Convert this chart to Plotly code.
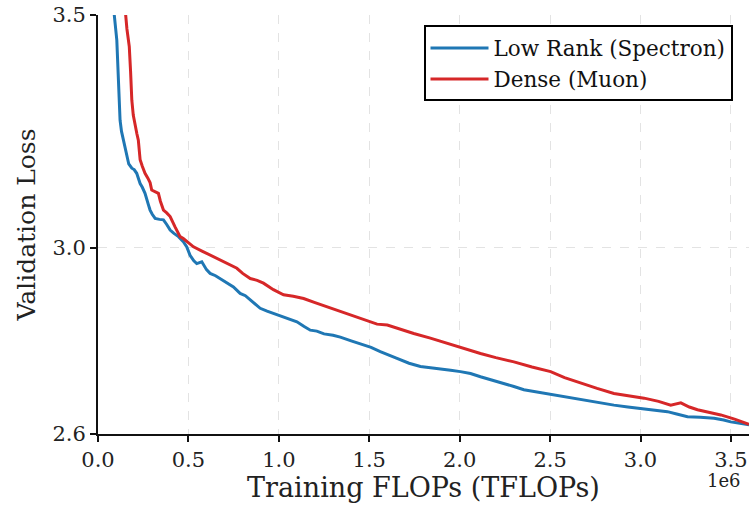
import plotly.graph_objects as go

# Low Rank (Spectron): x in units of 1e6 TFLOPs
lr_x = [0.085, 0.090, 0.104, 0.112, 0.118, 0.122, 0.130, 0.140, 0.150, 0.159, 0.170, 0.187, 0.200,
        0.214, 0.233, 0.245, 0.260, 0.279, 0.288, 0.300, 0.316, 0.340, 0.362, 0.380, 0.399, 0.420,
        0.445, 0.472, 0.491, 0.509, 0.530, 0.546, 0.574, 0.600, 0.620, 0.650, 0.676, 0.710, 0.749,
        0.786, 0.815, 0.842, 0.870, 0.897, 0.935, 0.971, 1.020, 1.063, 1.100, 1.140, 1.174, 1.210,
        1.250, 1.300, 1.340, 1.400, 1.450, 1.510, 1.561, 1.610, 1.650, 1.720, 1.783, 1.850, 1.900,
        1.950, 2.004, 2.060, 2.115, 2.180, 2.244, 2.300, 2.355, 2.430, 2.503, 2.580, 2.669, 2.760,
        2.853, 2.930, 3.001, 3.080, 3.149, 3.200, 3.260, 3.330, 3.407, 3.460, 3.499, 3.550, 3.600]
lr_y = [3.600, 3.500, 3.446, 3.380, 3.330, 3.274, 3.250, 3.231, 3.210, 3.196, 3.180, 3.171, 3.168,
        3.160, 3.138, 3.130, 3.117, 3.092, 3.081, 3.072, 3.063, 3.061, 3.060, 3.050, 3.038, 3.031,
        3.024, 3.013, 3.002, 2.984, 2.972, 2.966, 2.970, 2.953, 2.945, 2.940, 2.934, 2.926, 2.916,
        2.902, 2.897, 2.888, 2.878, 2.870, 2.864, 2.859, 2.852, 2.845, 2.841, 2.831, 2.823, 2.821,
        2.815, 2.812, 2.808, 2.800, 2.793, 2.786, 2.777, 2.770, 2.763, 2.752, 2.745, 2.742, 2.740,
        2.737, 2.734, 2.730, 2.723, 2.716, 2.709, 2.702, 2.695, 2.690, 2.684, 2.679, 2.673, 2.668,
        2.662, 2.658, 2.655, 2.652, 2.648, 2.643, 2.637, 2.636, 2.634, 2.630, 2.626, 2.623, 2.620]

# Dense (Muon)
dn_x = [0.150, 0.153, 0.160, 0.173, 0.180, 0.187, 0.195, 0.205, 0.215, 0.223, 0.233, 0.245, 0.260,
        0.275, 0.288, 0.297, 0.315, 0.334, 0.345, 0.353, 0.362, 0.380, 0.399, 0.426, 0.454, 0.472,
        0.500, 0.528, 0.575, 0.620, 0.660, 0.694, 0.730, 0.768, 0.800, 0.842, 0.880, 0.915, 0.970,
        1.026, 1.080, 1.137, 1.200, 1.266, 1.330, 1.395, 1.470, 1.543, 1.600, 1.654, 1.700, 1.746,
        1.838, 1.910, 1.986, 2.050, 2.115, 2.200, 2.300, 2.400, 2.503, 2.580, 2.669, 2.760, 2.853,
        2.940, 3.020, 3.100, 3.167, 3.223, 3.270, 3.315, 3.380, 3.444, 3.520, 3.600]
dn_y = [3.600, 3.500, 3.470, 3.432, 3.380, 3.317, 3.285, 3.260, 3.245, 3.231, 3.189, 3.175, 3.160,
        3.150, 3.140, 3.124, 3.120, 3.117, 3.100, 3.090, 3.081, 3.075, 3.067, 3.045, 3.024, 3.020,
        3.010, 3.002, 2.993, 2.984, 2.976, 2.970, 2.963, 2.956, 2.945, 2.934, 2.930, 2.924, 2.910,
        2.899, 2.896, 2.891, 2.882, 2.873, 2.864, 2.856, 2.846, 2.836, 2.834, 2.827, 2.821, 2.816,
        2.806, 2.797, 2.788, 2.781, 2.773, 2.764, 2.755, 2.744, 2.734, 2.721, 2.709, 2.698, 2.687,
        2.682, 2.677, 2.670, 2.662, 2.667, 2.658, 2.652, 2.647, 2.641, 2.632, 2.621]

x_ticks = [0.0, 0.5, 1.0, 1.5, 2.0, 2.5, 3.0, 3.5]
x_ticktext = ["0.0", "0.5", "1.0", "1.5", "2.0", "2.5", "3.0", "3.5"]
y_ticks = [2.6, 3.0, 3.5]
y_ticktext = ["2.6", "3.0", "3.5"]

SCALE = 1e6
FONT = "DejaVu Serif"

fig = go.Figure()
fig.add_trace(go.Scatter(x=[v * SCALE for v in lr_x], y=lr_y, mode="lines",
                         name="Low Rank (Spectron)", line=dict(color="#1f77b4", width=3)))
fig.add_trace(go.Scatter(x=[v * SCALE for v in dn_x], y=dn_y, mode="lines",
                         name="Dense (Muon)", line=dict(color="#d62728", width=3)))

fig.update_layout(
    width=754, height=506,
    margin=dict(l=98, r=5, t=15, b=72),
    paper_bgcolor="white", plot_bgcolor="white",
    font=dict(family=FONT, color="#222222", size=21),
    showlegend=True,
    legend=dict(x=0.5, y=0.975, xanchor="left", yanchor="top",
                bordercolor="black", borderwidth=2, bgcolor="white",
                font=dict(family=FONT, size=21.5, color="#111111"),
                tracegroupgap=0, itemwidth=58),
    xaxis=dict(range=[0, 3.6 * SCALE], tickvals=[v * SCALE for v in x_ticks], ticktext=x_ticktext,
               showline=True, linecolor="#111111", linewidth=2, ticks="outside", ticklen=6,
               tickwidth=1.5, tickcolor="#111111", showgrid=True, gridcolor="#e3e3e3",
               griddash="dash", gridwidth=1, zeroline=False, mirror=False, automargin=False,
               title=dict(text="Training FLOPs (TFLOPs)", font=dict(size=27), standoff=4),
               tickfont=dict(size=21)),
    yaxis=dict(range=[2.6, 3.5], tickvals=y_ticks, ticktext=y_ticktext,
               showline=True, linecolor="#111111", linewidth=2, ticks="outside", ticklen=6,
               tickwidth=1.5, tickcolor="#111111", showgrid=True, gridcolor="#e3e3e3",
               griddash="dash", gridwidth=1, zeroline=False, mirror=False, automargin=False,
               title=dict(text="Validation Loss", font=dict(size=25), standoff=10),
               tickfont=dict(size=21)),
    annotations=[dict(text="1e6", xref="paper", yref="paper", x=0.991, y=-0.082,
                      xanchor="right", yanchor="top", showarrow=False,
                      font=dict(family=FONT, size=18, color="#222222"))],
)

fig.write_html("out.html")
